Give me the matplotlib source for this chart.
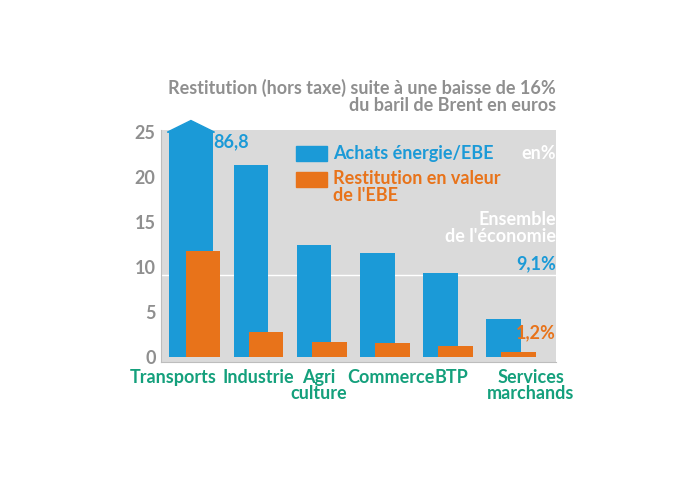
import matplotlib
matplotlib.use("Agg")
import matplotlib.pyplot as plt
from matplotlib.patches import Polygon, Rectangle

categories = ["Transports", "Industrie", "Agri\nculture", "Commerce", "BTP", "Services\nmarchands"]
achats = [86.8, 21.3, 12.4, 11.6, 9.3, 4.2]
restitution = [11.8, 2.8, 1.6, 1.5, 1.2, 0.5]
ensemble_achats = 9.1
ensemble_restit = 1.2
yticks = [0, 5, 10, 15, 20, 25]

BLUE = "#1b9ad7"; ORANGE = "#e8731a"; GREEN = "#14a07c"; GREY = "#8f8f8f"; BG = "#dadada"
plt.rcParams["font.family"] = "Lato"

fig = plt.figure(figsize=(6.95, 4.83), dpi=100)
ax = fig.add_axes([0.232, 0.25, 0.568, 0.48])
ax.set_facecolor(BG)
ymax = 25
ax.set_xlim(-0.42, 5.83)
ax.set_ylim(-0.6, 25.2)
x = list(range(len(categories)))
bw = [0.71, 0.55, 0.55, 0.55, 0.55, 0.55]
bx = [0.05, 0, 0, 0, 0, 0]
ax.bar([i + d for i, d in zip(x, bx)], [min(v, ymax) for v in achats], width=bw, color=BLUE, zorder=2)
ax.bar([i + 0.24 for i in x], restitution, width=0.55, color=ORANGE, zorder=3)
xc = x[0] + bx[0]
ax.add_patch(Polygon([[xc - bw[0]/2 - 0.02, ymax], [xc + bw[0]/2 + 0.02, ymax], [xc, ymax + 1.3]],
                     closed=True, color=BLUE, clip_on=False, zorder=4))
ax.text(xc + 0.36, 23.9, "86,8", color=BLUE, fontsize=13, fontweight="bold", va="center")
ax.axhline(ensemble_achats, color="white", lw=1, zorder=1)
ax.text(5.83, ensemble_achats + 0.3, "9,1%", color=BLUE, fontsize=13, fontweight="bold", ha="right", va="bottom")
ax.text(5.83, ensemble_restit + 0.5, "1,2%", color=ORANGE, fontsize=13, fontweight="bold", ha="right", va="bottom")
ax.text(5.83, 14.3, "Ensemble\nde l'économie", color="white", fontsize=13, fontweight="bold", ha="right", va="center", linespacing=1.0)
ax.text(5.83, 22.6, "en%", color="white", fontsize=13, fontweight="bold", ha="right", va="center")
ax.add_patch(Rectangle((1.72, 21.8), 0.48, 1.7, color=BLUE, zorder=4))
ax.text(2.3, 22.65, "Achats énergie/EBE", color=BLUE, fontsize=13, fontweight="bold", va="center")
ax.add_patch(Rectangle((1.72, 18.9), 0.48, 1.7, color=ORANGE, zorder=4))
ax.text(2.3, 18.9, "Restitution en valeur\nde l'EBE", color=ORANGE, fontsize=13, fontweight="bold", va="center", linespacing=1.0)

ax.set_yticks(yticks)
ax.set_yticklabels([str(t) for t in yticks], color=GREY, fontsize=13, fontweight="bold")
ax.set_xticks([])
label_x = [-0.23, 1.11, 2.08, 3.22, 4.17, 5.43]
for lx, lab in zip(label_x, categories):
    ax.text(lx, -0.03, lab, transform=ax.get_xaxis_transform(), ha="center", va="top",
            color=GREEN, fontsize=13, fontweight="bold", linespacing=0.9)
ax.tick_params(length=0, pad=4)
for s in ["top", "right"]:
    ax.spines[s].set_visible(False)
ax.spines["left"].set_color("#bdbdbd")
ax.spines["bottom"].set_color("#bdbdbd")
fig.text(0.80, 0.80, "Restitution (hors taxe) suite à une baisse de 16%\ndu baril de Brent en euros",
         color=GREY, fontsize=13, fontweight="bold", ha="right", va="center", linespacing=1.0)
fig.savefig("out.png", dpi=100)
